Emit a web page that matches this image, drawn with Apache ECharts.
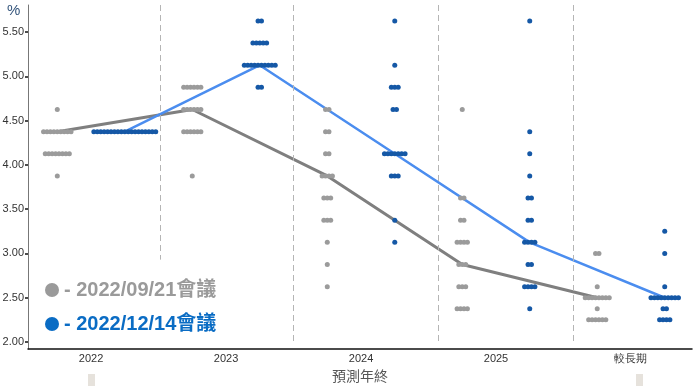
<!DOCTYPE html>
<html>
<head>
<meta charset="utf-8">
<script src="https://cdn.jsdelivr.net/npm/echarts@6/dist/echarts.min.js"></script>
<style>html,body{margin:0;padding:0;background:#fff}#c{width:698px;height:386px}</style>
</head>
<body>
<div id="c"></div>
<script>
// ---- data ----
const categories = ['2022', '2023', '2024', '2025', '較長期'];
const yTicks = [2.00, 2.50, 3.00, 3.50, 4.00, 4.50, 5.00, 5.50];
const meetingSep = '2022/09/21會議';
const meetingDec = '2022/12/14會議';
// dots per projection year: [rate, count]
const sepDots = [
  [[4.625, 1], [4.375, 9], [4.125, 8], [3.875, 1]],
  [[4.875, 6], [4.625, 6], [4.375, 6], [3.875, 1]],
  [[4.625, 2], [4.375, 2], [4.125, 2], [3.875, 4], [3.625, 3], [3.375, 3], [3.125, 1], [2.875, 1], [2.625, 1]],
  [[4.625, 1], [3.625, 2], [3.375, 2], [3.125, 4], [2.875, 3], [2.625, 3], [2.375, 4]],
  [[3.0, 2], [2.625, 1], [2.5, 8], [2.375, 1], [2.25, 6]]
];
const decDots = [
  [[4.375, 19]],
  [[5.625, 2], [5.375, 5], [5.125, 10], [4.875, 2]],
  [[5.625, 1], [5.125, 1], [4.875, 3], [4.625, 2], [4.125, 7], [3.875, 3], [3.375, 1], [3.125, 1]],
  [[5.625, 1], [4.375, 1], [4.125, 1], [3.875, 1], [3.625, 2], [3.375, 2], [3.125, 4], [2.875, 2], [2.625, 4], [2.375, 1]],
  [[3.25, 1], [3.0, 1], [2.625, 1], [2.5, 9], [2.375, 2], [2.25, 4]]
];
const sepMedians = [4.375, 4.625, 3.875, 2.875, 2.5];
const decMedians = [4.375, 5.125, 4.125, 3.125, 2.5];

// ---- layout helpers ----
const SIDE = 0.25;      // sub-column offset from category centre
const DOT_STEP = 3.44;  // px between overlapping dots in a row
const separators = [0.51, 1.5, 2.57, 3.57];
const sepEnds = [2.93, 2.0, 2.0, 2.0];
const Y_MIN = 1.921, Y_MAX = 5.805;

function buildDots(dots, side) {
  const out = [];
  dots.forEach((rows, k) => {
    rows.forEach(([rate, n]) => {
      for (let j = 0; j < n; j++) {
        out.push({ value: [k + side, rate], symbolOffset: [(j - (n - 1) / 2) * DOT_STEP, 0] });
      }
    });
  });
  return out;
}
function buildLine(meds, side) { return meds.map((m, k) => [k + side, m]); }

const GRAY = '#9b9b9b', BLUE = '#1558a6';
const chart = echarts.init(document.getElementById('c'));
chart.setOption({
  animation: false,
  backgroundColor: '#fff',
  grid: { left: 28, right: 6, top: 5, bottom: 37, containLabel: false, outerBoundsMode: 'none' },
  xAxis: {
    type: 'value', min: -0.467, max: 4.452,
    splitLine: { show: false },
    axisLine: { show: true, onZero: false, lineStyle: { color: '#111', width: 1.5 } },
    axisTick: { show: false },
    axisLabel: {
      customValues: [0, 1, 2, 3, 4],
      formatter: v => categories[Math.round(v)],
      color: '#333', fontSize: 11, fontFamily: 'Liberation Sans', margin: 4
    },
    name: '預測年終', nameLocation: 'middle', nameGap: 17,
    nameTextStyle: { color: '#555', fontSize: 14, fontFamily: 'Noto Sans CJK TC' }
  },
  yAxis: {
    type: 'value', min: Y_MIN, max: Y_MAX,
    splitLine: { show: false },
    axisLine: { show: true, onZero: false, lineStyle: { color: '#777', width: 1 } },
    axisTick: { show: true, customValues: yTicks, length: 3, lineStyle: { color: '#111', width: 1.5 } },
    axisLabel: {
      customValues: yTicks, formatter: v => v.toFixed(2),
      color: '#333', fontSize: 11, fontFamily: 'Liberation Sans', margin: 4
    }
  },
  legend: {
    orient: 'vertical', left: 40, top: 275, itemGap: 14,
    itemWidth: 14, itemHeight: 14, icon: 'circle',
    formatter: '- {name}',
    selectedMode: false,
    data: [
      { name: meetingSep, itemStyle: { color: '#9a9a9a' }, textStyle: { color: '#9a9a9a' } },
      { name: meetingDec, itemStyle: { color: '#0a6cc4' }, textStyle: { color: '#0a6cc4' } }
    ],
    textStyle: { fontSize: 20, fontWeight: 'bold', fontFamily: 'Liberation Sans, Noto Sans CJK TC', lineHeight: 20 }
  },
  graphic: [
    { type: 'text', left: 7, top: 3, style: { text: '%', fill: '#34557c', fontSize: 15, fontFamily: 'Liberation Sans' } },
    { type: 'rect', left: 88, top: 374, shape: { width: 7, height: 12 }, style: { fill: '#e6e2dc' } },
    { type: 'rect', left: 636, top: 374, shape: { width: 7, height: 12 }, style: { fill: '#e6e2dc' } }
  ],
  series: [
    {
      type: 'line', name: 'sep', silent: true, z: 1, data: [],
      markLine: {
        silent: true, symbol: 'none', label: { show: false },
        lineStyle: { color: '#b5b5b5', type: [6, 4], width: 1 },
        data: separators.map((x, i) => [{ coord: [x, Y_MAX] }, { coord: [x, sepEnds[i]] }])
      }
    },
    { type: 'line', name: 'sepMedian', data: buildLine(sepMedians, -SIDE), symbol: 'none', z: 2,
      lineStyle: { color: '#7f7f7f', width: 3 }, silent: true },
    { type: 'line', name: 'decMedian', data: buildLine(decMedians, SIDE), symbol: 'none', z: 2,
      lineStyle: { color: '#4b8def', width: 2.5 }, silent: true },
    { type: 'scatter', name: meetingSep, data: buildDots(sepDots, -SIDE), symbolSize: 5, z: 3,
      itemStyle: { color: GRAY, opacity: 1 } },
    { type: 'scatter', name: meetingDec, data: buildDots(decDots, SIDE), symbolSize: 5, z: 3,
      itemStyle: { color: BLUE, opacity: 1 } }
  ]
});
</script>
</body>
</html>
